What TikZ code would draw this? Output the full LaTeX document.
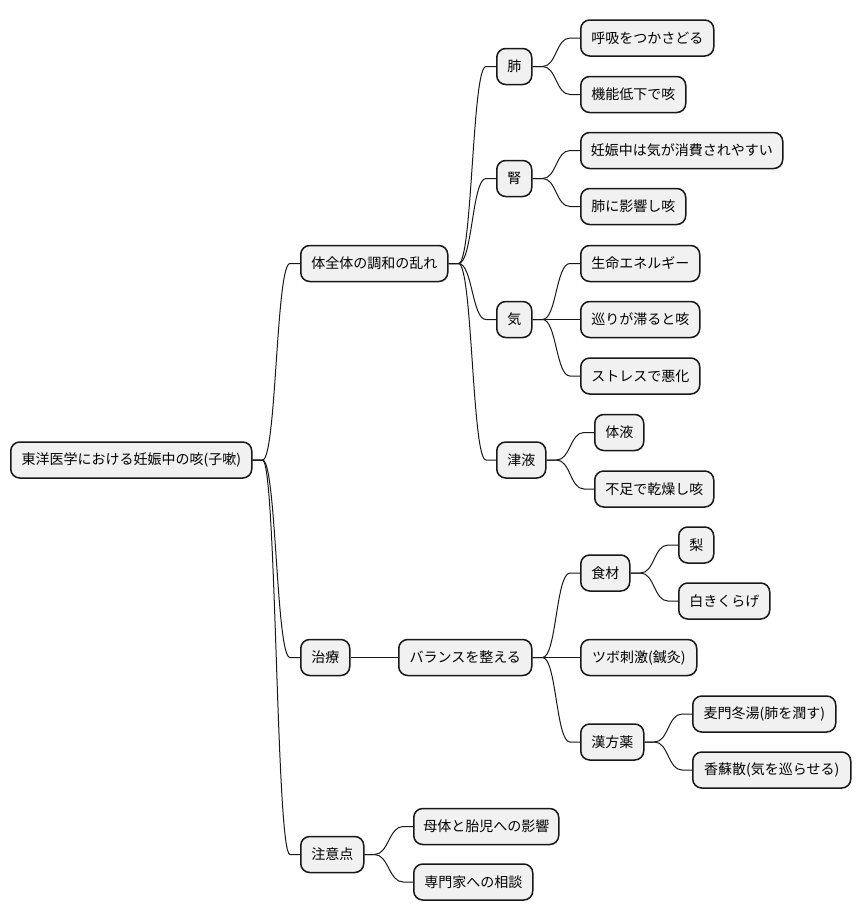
\documentclass[tikz,border=0pt]{standalone}
\usepackage{fontspec}
\setmainfont{Noto Sans CJK JP}
\usetikzlibrary{calc}
\definecolor{boxfill}{HTML}{F1F1F1}
\definecolor{boxline}{HTML}{181818}
\tikzset{
  mmbox/.style={draw=boxline, fill=boxfill, line width=1.5pt, rounded corners=9pt,
    anchor=west, minimum height=36pt, inner xsep=0pt, inner ysep=0pt, align=center,
    font=\fontsize{14pt}{17pt}\selectfont, text=black},
  mmlink/.style={draw=boxline, line width=1pt,
    to path={-- ++(10,0) .. controls +(14,0) and +(-14,0) .. ($(\tikztotarget.west)+(-10,0)$) -- (\tikztotarget.west)}}
}
\begin{document}
\begin{tikzpicture}[x=1pt, y={(0pt,-1pt)}]
\useasboundingbox (0,0) rectangle (860,921);
\fill[white] (0,0) rectangle (860,921);
% nodes
\node[mmbox, minimum width=241] (root) at (10,460) {東洋医学における妊娠中の咳(子嗽)};
\node[mmbox, minimum width=147] (A) at (300,263.5) {体全体の調和の乱れ};
\node[mmbox, minimum width=49] (B) at (300,657.5) {治療};
\node[mmbox, minimum width=63] (C) at (300,854.5) {注意点};
\node[mmbox, minimum width=35] (A1) at (496,66.5) {肺};
\node[mmbox, minimum width=35] (A2) at (496,178.5) {腎};
\node[mmbox, minimum width=35] (A3) at (496,319.5) {気};
\node[mmbox, minimum width=49] (A4) at (496,460) {津液};
\node[mmbox, minimum width=133] (A1a) at (580,38) {呼吸をつかさどる};
\node[mmbox, minimum width=105] (A1b) at (580,94.5) {機能低下で咳};
\node[mmbox, minimum width=202] (A2a) at (580,150.5) {妊娠中は気が消費されやすい};
\node[mmbox, minimum width=105] (A2b) at (580,206.5) {肺に影響し咳};
\node[mmbox, minimum width=119] (A3a) at (580,263.5) {生命エネルギー};
\node[mmbox, minimum width=119] (A3b) at (580,319.5) {巡りが滞ると咳};
\node[mmbox, minimum width=119] (A3c) at (580,376) {ストレスで悪化};
\node[mmbox, minimum width=49] (A4a) at (594,432.5) {体液};
\node[mmbox, minimum width=119] (A4b) at (594,489) {不足で乾燥し咳};
\node[mmbox, minimum width=133] (B1) at (398,657.5) {バランスを整える};
\node[mmbox, minimum width=49] (B1a) at (580,573) {食材};
\node[mmbox, minimum width=35] (B1a1) at (678,545) {梨};
\node[mmbox, minimum width=91] (B1a2) at (678,601) {白きくらげ};
\node[mmbox, minimum width=116] (B1b) at (580,657.5) {ツボ刺激(鍼灸)};
\node[mmbox, minimum width=63] (B1c) at (580,742) {漢方薬};
\node[mmbox, minimum width=143] (B1c1) at (692,714) {麦門冬湯(肺を潤す)};
\node[mmbox, minimum width=158] (B1c2) at (692,770) {香蘇散(気を巡らせる)};
\node[mmbox, minimum width=145] (C1) at (413,826.5) {母体と胎児への影響};
\node[mmbox, minimum width=119] (C2) at (413,882) {専門家への相談};
% connectors
\draw[mmlink] (root.east) to (A);
\draw[mmlink] (root.east) to (B);
\draw[mmlink] (root.east) to (C);
\draw[mmlink] (A.east) to (A1);
\draw[mmlink] (A.east) to (A2);
\draw[mmlink] (A.east) to (A3);
\draw[mmlink] (A.east) to (A4);
\draw[mmlink] (A1.east) to (A1a);
\draw[mmlink] (A1.east) to (A1b);
\draw[mmlink] (A2.east) to (A2a);
\draw[mmlink] (A2.east) to (A2b);
\draw[mmlink] (A3.east) to (A3a);
\draw[mmlink] (A3.east) to (A3b);
\draw[mmlink] (A3.east) to (A3c);
\draw[mmlink] (A4.east) to (A4a);
\draw[mmlink] (A4.east) to (A4b);
\draw[mmlink] (B.east) to (B1);
\draw[mmlink] (B1.east) to (B1a);
\draw[mmlink] (B1.east) to (B1b);
\draw[mmlink] (B1.east) to (B1c);
\draw[mmlink] (B1a.east) to (B1a1);
\draw[mmlink] (B1a.east) to (B1a2);
\draw[mmlink] (B1c.east) to (B1c1);
\draw[mmlink] (B1c.east) to (B1c2);
\draw[mmlink] (C.east) to (C1);
\draw[mmlink] (C.east) to (C2);
\end{tikzpicture}
\end{document}
